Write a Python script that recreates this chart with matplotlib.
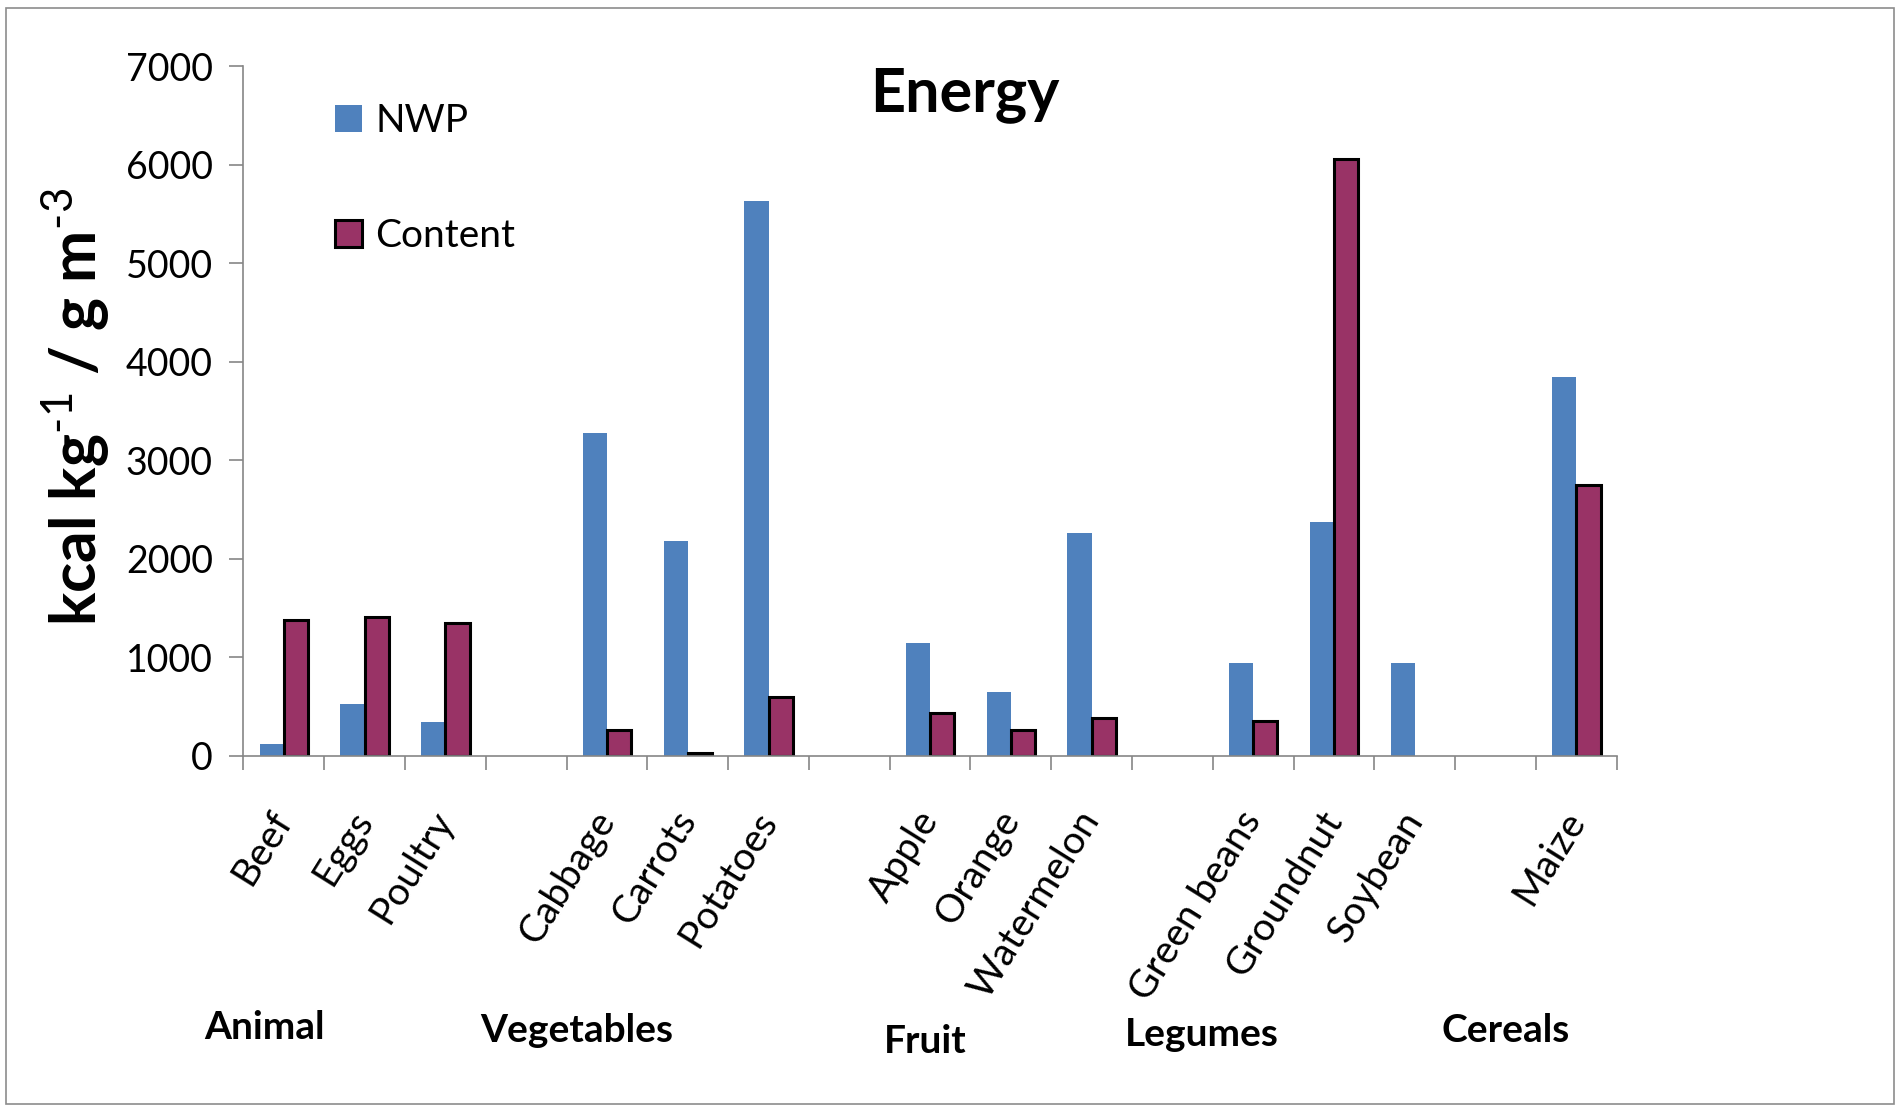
import numpy as np
import matplotlib
matplotlib.use("Agg")
import matplotlib.pyplot as plt
from matplotlib.patches import Rectangle
from matplotlib.transforms import blended_transform_factory

plt.rcParams['font.family'] = ['Lato', 'DejaVu Sans']
plt.rcParams['mathtext.fontset'] = 'custom'
plt.rcParams['mathtext.rm'] = 'Lato'
plt.rcParams['mathtext.bf'] = 'Lato:bold'
plt.rcParams['mathtext.default'] = 'bf'

# foods, with blank slots separating the groups
foods = ['Beef', 'Eggs', 'Poultry', '',
         'Cabbage', 'Carrots', 'Potatoes', '',
         'Apple', 'Orange', 'Watermelon', '',
         'Green beans', 'Groundnut', 'Soybean', '',
         'Maize']
nwp = [120, 520, 340, np.nan,
       3280, 2180, 5630, np.nan,
       1140, 650, 2260, np.nan,
       940, 2370, 940, np.nan,
       3850]
content = [1380, 1410, 1350, np.nan,
           260, 30, 600, np.nan,
           430, 260, 380, np.nan,
           350, 6060, np.nan, np.nan,
           2750]
groups = ['Animal', 'Vegetables', 'Fruit', 'Legumes', 'Cereals']
yticks = [0, 1000, 2000, 3000, 4000, 5000, 6000, 7000]

# where the group names sit (x in category units, y in figure fraction)
group_pos = [(-0.24, 0.073), (3.63, 0.070), (7.94, 0.060), (11.36, 0.066), (15.12, 0.070)]

fig = plt.figure(figsize=(19.02, 11.08), dpi=100)
ax = fig.add_axes([0.128, 0.318, 0.722, 0.622])

x = np.arange(len(foods))
w = 0.3
ax.bar(x - w / 2, nwp, w, color='#4F81BD', label='NWP')
ax.bar(x + w / 2, content, w, color='#993366', edgecolor='black',
       linewidth=2.2, label='Content')

ax.set_xlim(-0.5, len(foods) - 0.5)
ax.set_ylim(0, 7000)
ax.set_yticks(yticks)
ax.tick_params(axis='y', labelsize=27, length=10, width=1.2, color='#868686', pad=12)

ax.set_xticks(x)
ax.set_xticklabels(foods, rotation=58, ha='right', va='center',
                   rotation_mode='anchor', fontsize=28)
ax.tick_params(axis='x', which='major', length=0, pad=42)
ax.set_xticks(np.arange(-0.5, len(foods)), minor=True)
ax.tick_params(axis='x', which='minor', length=10, width=1.2, color='#868686')

for side in ['top', 'right']:
    ax.spines[side].set_visible(False)
for side in ['left', 'bottom']:
    ax.spines[side].set_color('#868686')
    ax.spines[side].set_linewidth(1.2)

ax.legend(loc='upper left', bbox_to_anchor=(0.041, 0.998), frameon=False,
          fontsize=28, labelspacing=2.03, handlelength=0.7, handleheight=0.7,
          handletextpad=0.35)

fig.text(0.507, 0.914, 'Energy', fontsize=44, fontweight='bold',
         ha='center', va='center')
fig.text(0.040, 0.633, r'kcal kg$^{\text{-1}}$ / g m$^{\text{-3}}$', fontsize=45,
         fontweight='bold', rotation=90, ha='center', va='center')

group_tf = blended_transform_factory(ax.transData, fig.transFigure)
for name, (gx, gy) in zip(groups, group_pos):
    ax.text(gx, gy, name, transform=group_tf, fontsize=28, fontweight='bold',
            ha='center', va='center')

fig.add_artist(Rectangle((0.003, 0.004), 0.993, 0.989, transform=fig.transFigure,
                         fill=False, edgecolor='#8c8c8c', linewidth=1.2))

fig.savefig('out.png', dpi=100)
